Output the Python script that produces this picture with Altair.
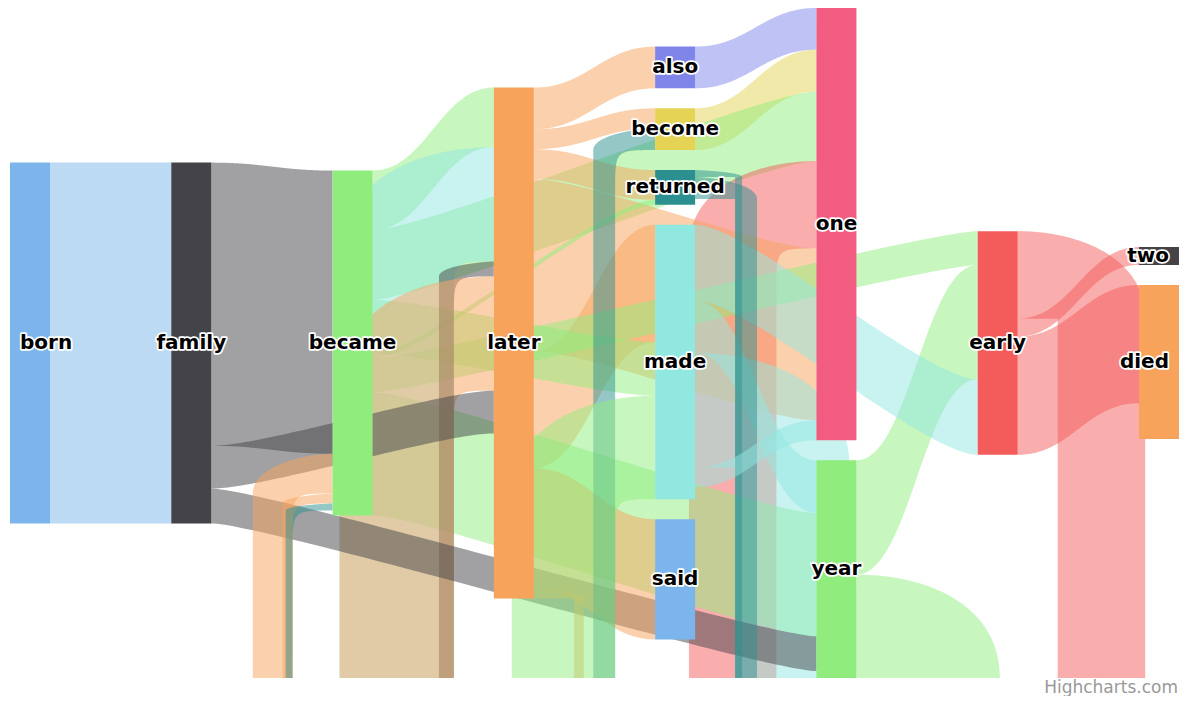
import altair as alt
import numpy as np
import pandas as pd

# ---------------- data ----------------
node_names = ["born", "family", "became", "later", "also", "become", "returned",
              "made", "said", "one", "year", "early", "two", "died"]
node_columns = [0, 1, 2, 3, 4, 4, 4, 4, 4, 5, 5, 6, 7, 7]
node_colors = ["#7cb5ec", "#434348", "#90ed7d", "#f7a35c", "#8085e9", "#e4d354",
               "#2b908f", "#91e8e1", "#7cb5ec", "#f15c80", "#90ed7d", "#f45b5b",
               "#434348", "#f7a35c"]

link_from = ["born", "family", "became", "also", "become", "became", "early",
             "later", "later", "later", "later", "later", "became", "became",
             "became", "year", "made", "made", "became", "made", "two", "died",
             "family", "family", "died", "later", "later", "returned", "returned",
             "year", "early", "early", "made"]
link_to = ["family", "became", "later", "one", "one", "one", "one",
           "also", "become", "returned", "one", "made", "made", "returned",
           "early", "early", "early", "year", "year", "later", "later", "later",
           "later", "year", "became", "said", "became", "became", "become",
           "made", "two", "died", "one"]
link_weight = [363, 285, 60, 42, 42, 70, 88,
               42, 20, 30, 173, 118, 54, 5,
               34, 115, 76, 53, 124, 115, 15, 115,
               43, 35, 40, 121, 10, 7, 22,
               104, 18, 119, 20]

credit_text = "Highcharts.com"

# ---------------- layout constants ----------------
W = 1171            # chart plot width in px
PLOT_H = 670
X0 = 2
PLOT_W = 1169
NODE_W = 40
NODE_PAD = 20
BEND = 40
CURVE = 0.33
FONT = "DejaVu Sans"

idx = {n: i for i, n in enumerate(node_names)}
n_nodes = len(node_names)
sum_in = np.zeros(n_nodes)
sum_out = np.zeros(n_nodes)
for s, t, w in zip(link_from, link_to, link_weight):
    sum_out[idx[s]] += w
    sum_in[idx[t]] += w
size = np.maximum(sum_in, sum_out)

n_cols = max(node_columns) + 1
col_dist = (PLOT_W - NODE_W) / (n_cols - 1)
columns = [[i for i in range(n_nodes) if node_columns[i] == c] for c in range(n_cols)]
factor = min((PLOT_H - (len(c) - 1) * NODE_PAD) / sum(size[i] for i in c) for c in columns)

node_x = np.zeros(n_nodes)
node_y = np.zeros(n_nodes)
node_h = size * factor
for c, members in enumerate(columns):
    total = sum(node_h[i] for i in members) + (len(members) - 1) * NODE_PAD
    y = (PLOT_H - total) / 2
    for i in members:
        node_x[i] = X0 + c * col_dist
        node_y[i] = y
        y += node_h[i] + NODE_PAD


def bez(p0, p1, p2, p3, t):
    u = 1 - t
    return u ** 3 * p0 + 3 * u * u * t * p1 + 3 * u * t * t * p2 + t ** 3 * p3


T = np.linspace(0, 1, 70)
BIG = PLOT_H + 150
EPS = 0.01
rows = []
pcount = [0]


def add_piece(xs, ytop, ybot, color):
    pid = "p%03d" % pcount[0]
    pcount[0] += 1
    for x, a, b in zip(xs, ytop, ybot):
        rows.append({"piece": pid, "x": float(x), "y": float(a), "y2": float(b), "color": color})


off_out = np.zeros(n_nodes)
off_in = np.zeros(n_nodes)
curvy = col_dist * CURVE
for s, t, w in zip(link_from, link_to, link_weight):
    si, ti = idx[s], idx[t]
    h = w * factor
    fy = node_y[si] + off_out[si]
    ty = node_y[ti] + off_in[ti]
    off_out[si] += h
    off_in[ti] += h
    color = node_colors[si]
    xa = node_x[si] + NODE_W
    xb = node_x[ti]
    if xb > xa:
        xs = bez(xa, xa + curvy, xb - curvy, xb, T)
        yt = bez(fy, fy, ty, ty, T)
        add_piece(xs, yt, yt + h, color)
    else:
        # outgoing loop part
        x4 = xa
        x5 = x4 + BEND
        x6 = x5 + h
        fy1, fy2 = fy, fy + h
        ox = bez(x4, x4 + 0.7 * h, x6, x6, T)
        oy = bez(fy1, fy1, fy2 - 0.7 * h, fy2, T)
        grid = np.unique(np.concatenate([ox, [x5 - EPS, x5]]))
        grid = grid[(grid >= x4) & (grid <= x6)]
        top = np.interp(grid, ox, oy)
        bot = np.where(grid < x5, fy2, BIG)
        add_piece(grid, top, bot, color)
        # incoming loop part
        x3 = xb
        x2 = x3 - BEND
        x1 = x2 - h
        ty1, ty2 = ty, ty + h
        ty3 = ty2 + BEND
        ox = bez(x1, x1, x3 - 0.7 * h, x3, T)
        oy = bez(ty2, ty2 - 0.7 * h, ty1, ty1, T)
        ix = bez(x2, x2, x2, x3, T)
        iy = bez(ty3, ty2, ty2, ty2, T)
        ix_u, first = np.unique(ix, return_index=True)
        iy_u = iy[first]
        grid = np.unique(np.concatenate([ox, ix_u, [x2 - EPS]]))
        grid = grid[(grid >= x1) & (grid <= x3)]
        top = np.interp(grid, ox, oy)
        bot = np.where(grid < x2, BIG, np.interp(grid, ix_u, iy_u))
        add_piece(grid, top, bot, color)

links_df = pd.DataFrame(rows)

nodes_df = pd.DataFrame({
    "name": node_names,
    "x": node_x,
    "x2": node_x + NODE_W,
    "y": node_y,
    "y2": node_y + node_h,
    "color": node_colors,
    "cy": node_y + node_h / 2,
    "col": node_columns,
})
nodes_df["lx"] = nodes_df["x"] + NODE_W / 2
first_col = nodes_df["col"] == 0
last_col = nodes_df["col"] == n_cols - 1
nodes_df.loc[first_col, "lx"] = X0 + 10
nodes_df.loc[last_col, "lx"] = X0 + PLOT_W - 10

x_scale = alt.Scale(domain=[0, W], nice=False, zero=False)
y_scale = alt.Scale(domain=[0, PLOT_H], reverse=True, nice=False, zero=False)

links = alt.Chart(links_df).mark_area(
    fillOpacity=0.5, clip=True, strokeWidth=0, interpolate="linear"
).encode(
    x=alt.X("x:Q", scale=x_scale, axis=None),
    y=alt.Y("y:Q", scale=y_scale, axis=None),
    y2="y2:Q",
    detail="piece:N",
    color=alt.Color("color:N", scale=None),
)

nodes = alt.Chart(nodes_df).mark_rect(clip=True).encode(
    x=alt.X("x:Q", scale=x_scale, axis=None),
    x2="x2:Q",
    y=alt.Y("y:Q", scale=y_scale, axis=None),
    y2="y2:Q",
    color=alt.Color("color:N", scale=None),
)


def label_layers(df, align):
    base = alt.Chart(df).encode(
        x=alt.X("lx:Q", scale=x_scale, axis=None),
        y=alt.Y("cy:Q", scale=y_scale, axis=None),
        text="name:N",
    )
    outline = base.mark_text(align=align, baseline="middle", font=FONT, fontSize=20,
                             fontWeight="bold", fill="white", stroke="white",
                             strokeWidth=3.5, strokeJoin="round")
    fill = base.mark_text(align=align, baseline="middle", font=FONT, fontSize=20,
                          fontWeight="bold", color="#000000")
    return [outline, fill]


label_parts = []
label_parts += label_layers(nodes_df[first_col], "left")
label_parts += label_layers(nodes_df[(~first_col) & (~last_col)], "center")
label_parts += label_layers(nodes_df[last_col], "right")

credit = alt.Chart(pd.DataFrame({"t": [credit_text]})).mark_text(
    align="right", baseline="alphabetic", font=FONT, fontSize=17, color="#999999"
).encode(x=alt.value(1170), y=alt.value(685), text="t:N")

chart = alt.layer(links, nodes, *label_parts, credit).properties(
    width=W, height=PLOT_H,
    autosize=alt.AutoSizeParams(type="none"),
    padding={"left": 0, "top": 0, "right": 0, "bottom": 18},
).configure_view(stroke=None)

chart.save("out.html", embed_options={"renderer": "svg", "actions": False})
